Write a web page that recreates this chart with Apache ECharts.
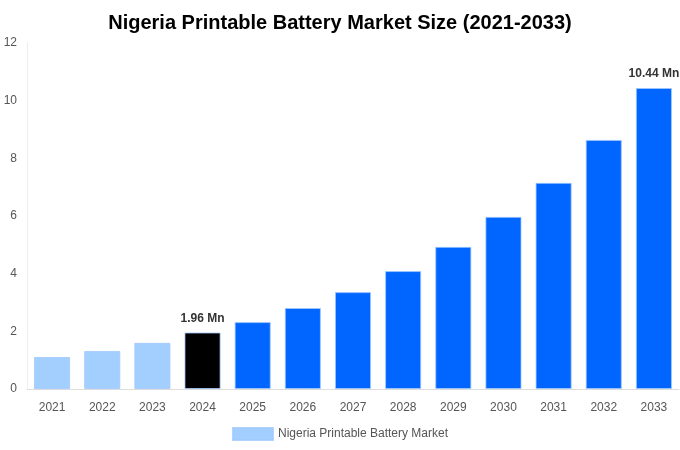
<!DOCTYPE html>
<html>
<head>
<meta charset="utf-8">
<script src="https://cdn.jsdelivr.net/npm/echarts@6/dist/echarts.min.js"></script>
<style>
  html, body { margin: 0; padding: 0; background: #fff; }
  #main { width: 680px; height: 450px; }
</style>
</head>
<body>
<div id="main"></div>
<script>
var years = ['2021', '2022', '2023', '2024', '2025', '2026', '2027', '2028', '2029', '2030', '2031', '2032', '2033'];
var marketSize = [1.11, 1.32, 1.60, 1.96, 2.32, 2.81, 3.36, 4.09, 4.93, 5.97, 7.15, 8.64, 10.44];
var yTicks = [0, 2, 4, 6, 8, 10, 12];
var labelled = { '2024': true, '2033': true };

function barColor(year) {
  var y = parseInt(year, 10);
  if (y < 2024) return '#a3cfff';
  if (y == 2024) return '#000000';
  return '#0066ff';
}

var barData = [];
for (var i = 0; i < years.length; i++) {
  barData.push({
    value: marketSize[i],
    itemStyle: { color: barColor(years[i]) },
    label: { show: !!labelled[years[i]] }
  });
}

var myChart = echarts.init(document.getElementById('main'));
var option = {
  backgroundColor: '#ffffff',
  title: {
    text: 'Nigeria Printable Battery Market Size (2021-2033)',
    left: 'center',
    top: 8,
    textStyle: { fontFamily: 'Liberation Sans, Arial', fontSize: 20, fontWeight: 'bold', color: '#000' }
  },
  legend: {
    bottom: 4,
    itemWidth: 40,
    itemHeight: 12,
    icon: 'rect',
    textStyle: { fontFamily: 'Liberation Sans, Arial', fontSize: 12, color: '#555' },
    data: [{ name: 'Nigeria Printable Battery Market', itemStyle: { color: '#a3cfff' } }]
  },
  grid: { left: 27, right: 1, top: 43, bottom: 61 },
  xAxis: {
    type: 'category',
    data: years,
    axisLine: { lineStyle: { color: '#ddd' } },
    axisTick: { show: false },
    axisLabel: { color: '#555', fontFamily: 'Liberation Sans, Arial', fontSize: 12, margin: 13 }
  },
  yAxis: {
    type: 'value',
    min: yTicks[0],
    max: yTicks[yTicks.length - 1],
    interval: 2,
    axisLine: { show: true, lineStyle: { color: '#eee' } },
    splitLine: { show: false },
    axisLabel: { color: '#555', fontFamily: 'Liberation Sans, Arial', fontSize: 12, margin: 10 }
  },
  series: [{
    name: 'Nigeria Printable Battery Market',
    type: 'bar',
    barWidth: '72%',
    data: barData,
    itemStyle: { borderColor: 'rgba(160,200,255,0.8)', borderWidth: 1 },
    label: {
      position: 'top',
      distance: 8,
      fontFamily: 'Liberation Sans, Arial',
      fontSize: 12,
      fontWeight: 'bold',
      color: '#333',
      formatter: function (p) { return p.value.toFixed(2) + ' Mn'; }
    }
  }]
};
myChart.setOption(option);
</script>
</body>
</html>
